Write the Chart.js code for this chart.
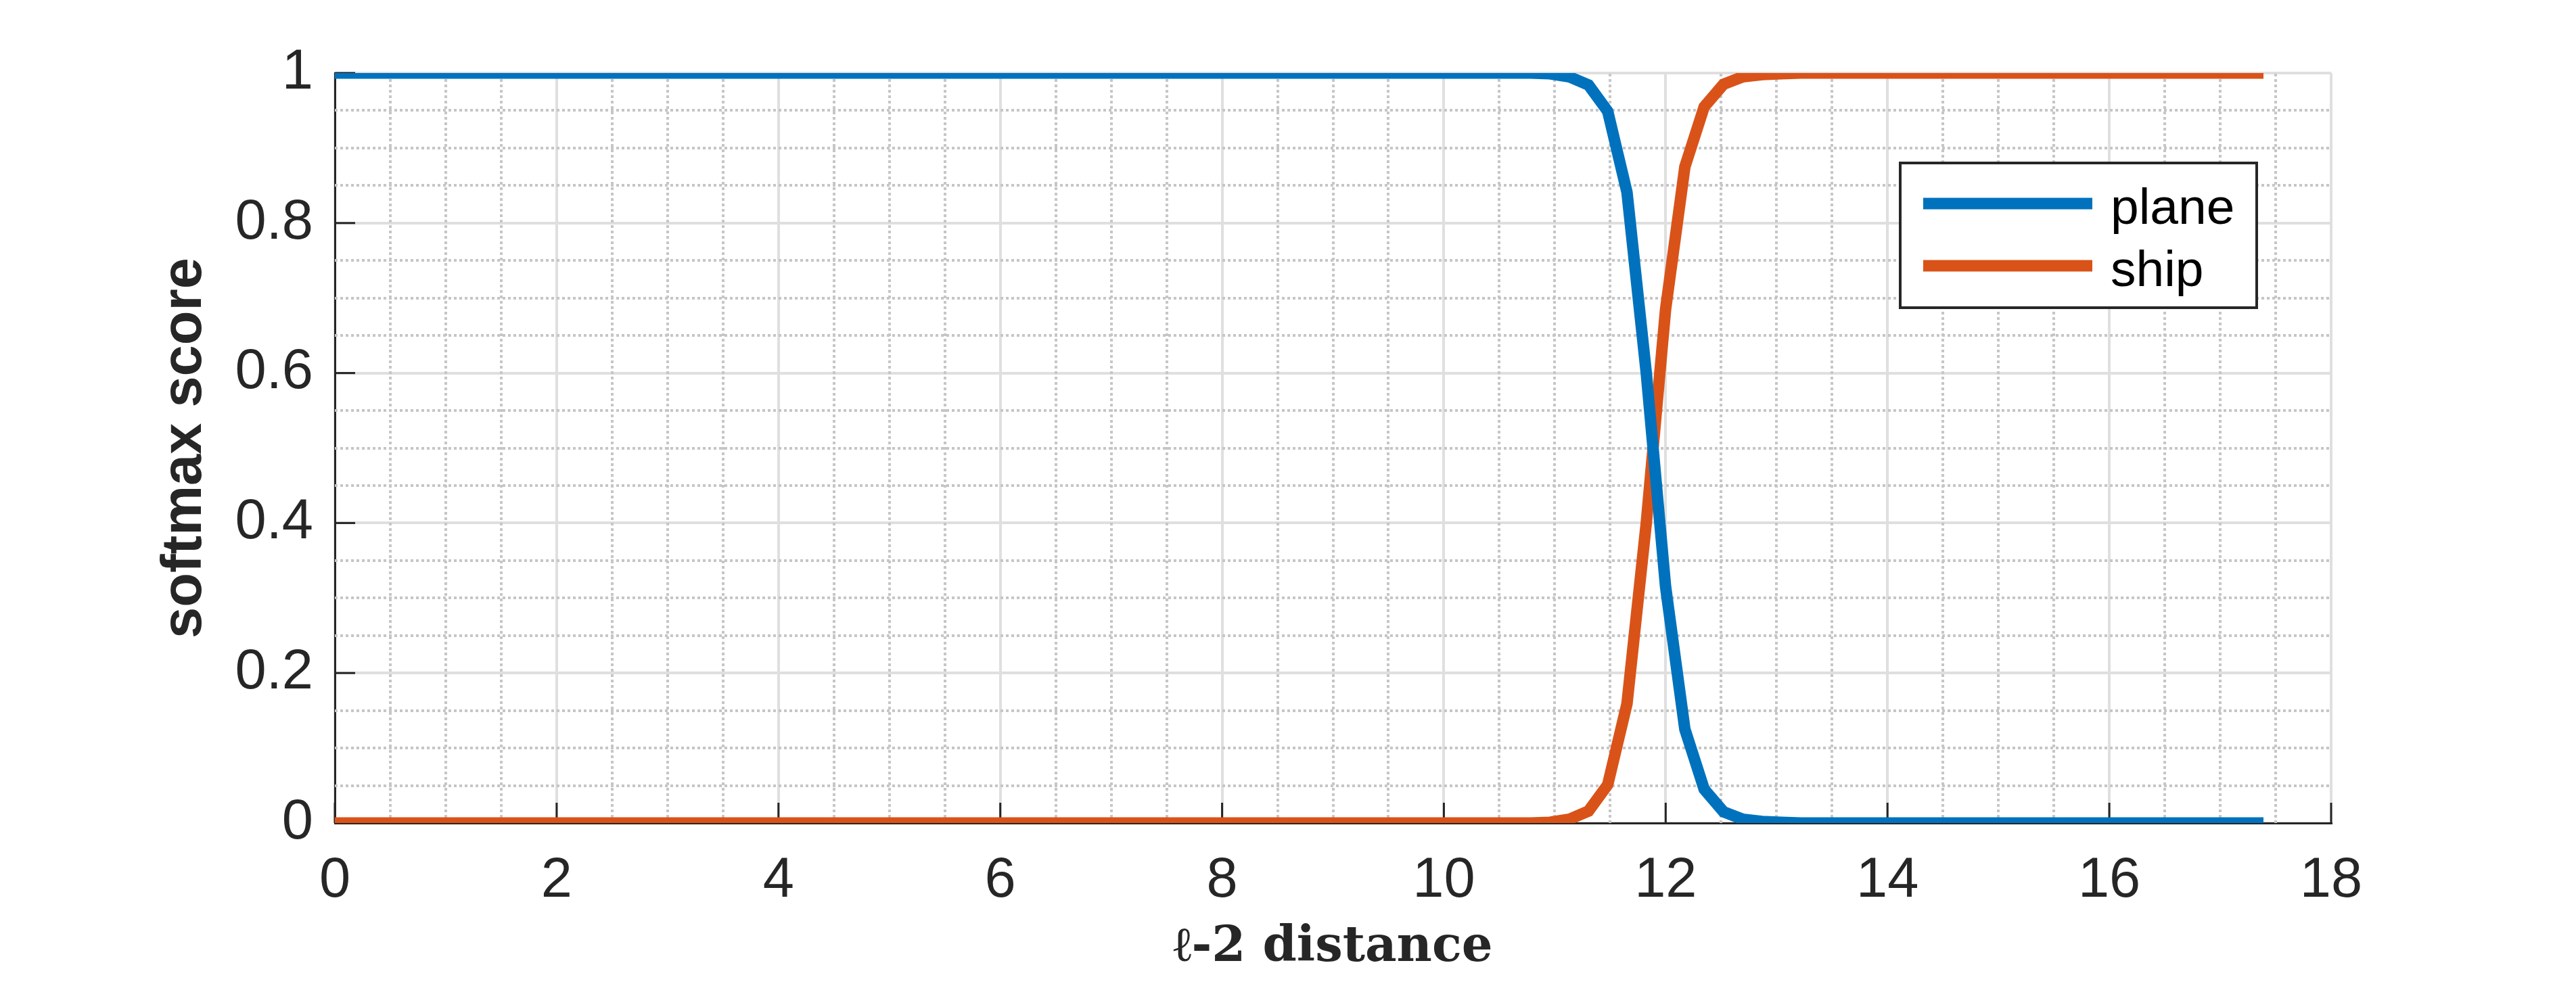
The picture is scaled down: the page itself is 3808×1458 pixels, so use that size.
<!DOCTYPE html>
<html>
<head>
<meta charset="utf-8">
<script src="https://cdn.jsdelivr.net/npm/chart.js@4/dist/chart.umd.min.js"></script>
<style>
html,body{margin:0;padding:0;background:#ffffff;}
canvas{display:block;}
</style>
</head>
<body>
<canvas id="c" width="3808" height="1458" style="width:3808px;height:1458px"></canvas>
<script>
// ---- data ----
const distance = [
  0.000, 0.174, 0.348, 0.522, 0.696, 0.870, 1.043, 1.217, 1.391, 1.565,
  1.739, 1.913, 2.087, 2.261, 2.435, 2.609, 2.782, 2.956, 3.130, 3.304,
  3.478, 3.652, 3.826, 4.000, 4.174, 4.348, 4.521, 4.695, 4.869, 5.043,
  5.217, 5.391, 5.565, 5.739, 5.913, 6.087, 6.260, 6.434, 6.608, 6.782,
  6.956, 7.130, 7.304, 7.478, 7.652, 7.826, 7.999, 8.173, 8.347, 8.521,
  8.695, 8.869, 9.043, 9.217, 9.391, 9.565, 9.738, 9.912, 10.086, 10.260,
  10.434, 10.608, 10.782, 10.956, 11.130, 11.304, 11.477, 11.651, 11.825, 11.999,
  12.173, 12.347, 12.521, 12.695, 12.869, 13.043, 13.216, 13.390, 13.564, 13.738,
  13.912, 14.086, 14.260, 14.434, 14.608, 14.782, 14.955, 15.129, 15.303, 15.477,
  15.651, 15.825, 15.999, 16.173, 16.347, 16.521, 16.694, 16.868, 17.042, 17.216,
  17.390
];
const plane = [
  1, 1, 1, 1, 1, 1, 1, 1, 1, 1,
  1, 1, 1, 1, 1, 1, 1, 1, 1, 1,
  1, 1, 1, 1, 1, 1, 1, 1, 1, 1,
  1, 1, 1, 1, 1, 1, 1, 1, 1, 1,
  1, 1, 1, 1, 1, 1, 1, 1, 1, 1,
  1, 1, 1, 1, 1, 1, 1, 1, 1, 1,
  1, 1, 1, 0.999, 0.995, 0.984, 0.949, 0.841, 0.600, 0.315,
  0.125, 0.045, 0.015, 0.005, 0.002, 0.001, 0, 0, 0, 0,
  0, 0, 0, 0, 0, 0, 0, 0, 0, 0,
  0, 0, 0, 0, 0, 0, 0, 0, 0, 0,
  0
];
const ship = [
  0, 0, 0, 0, 0, 0, 0, 0, 0, 0,
  0, 0, 0, 0, 0, 0, 0, 0, 0, 0,
  0, 0, 0, 0, 0, 0, 0, 0, 0, 0,
  0, 0, 0, 0, 0, 0, 0, 0, 0, 0,
  0, 0, 0, 0, 0, 0, 0, 0, 0, 0,
  0, 0, 0, 0, 0, 0, 0, 0, 0, 0,
  0, 0, 0, 0.001, 0.005, 0.016, 0.051, 0.159, 0.400, 0.685,
  0.875, 0.955, 0.985, 0.995, 0.998, 0.999, 1, 1, 1, 1,
  1, 1, 1, 1, 1, 1, 1, 1, 1, 1,
  1, 1, 1, 1, 1, 1, 1, 1, 1, 1,
  1
];
const seriesNames = ['plane', 'ship'];
const seriesColors = ['#0072BD', '#D95319'];
const xRange = [0, 18];
const xMajorStep = 2;
const xMinorStep = 0.5;
const yRange = [0, 1];
const yMajorStep = 0.2;
const yMinorStep = 0.05;
const xTitle = 'ℓ-2 distance';
const yTitle = 'softmax score';

// ---- styling ----
const AXIS_COLOR = '#262626';
const TICK_FONT = {family: '"Liberation Sans", Arial, Helvetica, sans-serif', size: 83};

function toPoints(xs, ys) { return xs.map((v, i) => ({x: v, y: ys[i]})); }

const nearMultiple = (v, step) => Math.abs(v / step - Math.round(v / step)) < 1e-6;

const matlabAxes = {
  id: 'matlabAxes',
  beforeDatasetsDraw(chart) {
    const {ctx, chartArea: a, scales} = chart;
    const x = scales.x, y = scales.y;
    ctx.save();
    // minor dotted grid
    ctx.strokeStyle = '#c6c6c6';
    ctx.lineWidth = 4;
    ctx.setLineDash([4, 4]);
    const nx = Math.round((x.max - x.min) / xMinorStep);
    for (let k = 0; k <= nx; k++) {
      const v = x.min + k * xMinorStep;
      if (nearMultiple(v, xMajorStep)) continue;
      const px = Math.round(x.getPixelForValue(v));
      ctx.beginPath(); ctx.moveTo(px, a.bottom); ctx.lineTo(px, a.top); ctx.stroke();
    }
    const ny = Math.round((y.max - y.min) / yMinorStep);
    for (let k = 0; k <= ny; k++) {
      const v = y.min + k * yMinorStep;
      if (nearMultiple(v, yMajorStep)) continue;
      const py = Math.round(y.getPixelForValue(v));
      ctx.beginPath(); ctx.moveTo(a.left, py); ctx.lineTo(a.right, py); ctx.stroke();
    }
    ctx.setLineDash([]);
    // inward ticks
    ctx.strokeStyle = AXIS_COLOR;
    ctx.lineWidth = 3;
    const tl = 30;
    x.ticks.forEach(t => {
      const px = x.getPixelForValue(t.value);
      ctx.beginPath(); ctx.moveTo(px, a.bottom); ctx.lineTo(px, a.bottom - tl); ctx.stroke();
    });
    y.ticks.forEach(t => {
      const py = y.getPixelForValue(t.value);
      ctx.beginPath(); ctx.moveTo(a.left, py); ctx.lineTo(a.left + tl, py); ctx.stroke();
    });
    ctx.restore();
  }
};

const boxLegend = {
  id: 'boxLegend',
  afterDraw(chart) {
    const {ctx, chartArea: a} = chart;
    const right = a.right - 110, top = a.top + 133;
    const w = 527, h = 214;
    const left = right - w;
    ctx.save();
    ctx.fillStyle = '#ffffff';
    ctx.fillRect(left, top, w, h);
    ctx.strokeStyle = AXIS_COLOR;
    ctx.lineWidth = 4;
    ctx.strokeRect(left, top, w, h);
    ctx.font = '75px "Liberation Sans", Arial, Helvetica, sans-serif';
    ctx.textBaseline = 'alphabetic';
    ctx.textAlign = 'left';
    chart.data.datasets.forEach((ds, i) => {
      const ly = top + 60 + i * 92;
      ctx.strokeStyle = ds.borderColor;
      ctx.lineWidth = 17;
      ctx.lineCap = 'butt';
      ctx.beginPath(); ctx.moveTo(left + 34, ly); ctx.lineTo(left + 284, ly); ctx.stroke();
      ctx.fillStyle = '#000000';
      ctx.fillText(ds.label, left + 311, ly + 30);
    });
    ctx.restore();
  }
};

new Chart(document.getElementById('c'), {
  type: 'line',
  data: {
    datasets: seriesNames.map((name, i) => ({
      label: name,
      data: toPoints(distance, i === 0 ? plane : ship),
      borderColor: seriesColors[i],
      backgroundColor: seriesColors[i],
      borderWidth: 17,
      pointRadius: 0,
      tension: 0,
      fill: false
    }))
  },
  options: {
    responsive: false,
    animation: false,
    events: [],
    layout: {padding: {left: 220, right: 362, top: 108, bottom: 9}},
    plugins: {legend: {display: false}, tooltip: {enabled: false}},
    scales: {
      x: {
        type: 'linear',
        min: xRange[0], max: xRange[1],
        afterFit(s) { s.height = 232; },
        ticks: {
          stepSize: xMajorStep,
          padding: 36,
          color: AXIS_COLOR,
          font: TICK_FONT,
          maxRotation: 0,
          autoSkip: false,
          callback: v => String(v)
        },
        grid: {color: '#dfdfdf', lineWidth: 4, drawTicks: false},
        border: {display: true, color: AXIS_COLOR, width: 3},
        title: {
          display: true, text: xTitle, color: AXIS_COLOR,
          font: {family: '"DejaVu Serif", serif', size: 72, weight: 'bold'},
          padding: {top: 4, bottom: 4}
        }
      },
      y: {
        type: 'linear',
        min: yRange[0], max: yRange[1],
        afterFit(s) { s.width = 275; },
        ticks: {
          stepSize: yMajorStep,
          padding: 32,
          color: AXIS_COLOR,
          font: TICK_FONT,
          callback: v => String(Math.round(v * 10) / 10)
        },
        grid: {color: '#dfdfdf', lineWidth: 4, drawTicks: false},
        border: {display: true, color: AXIS_COLOR, width: 3},
        title: {
          display: true, text: yTitle, color: AXIS_COLOR,
          font: {family: '"Liberation Sans", Arial, Helvetica, sans-serif', size: 83, weight: 'bold'},
          padding: {top: 4, bottom: 4}
        }
      }
    }
  },
  plugins: [matlabAxes, boxLegend]
});
</script>
</body>
</html>
